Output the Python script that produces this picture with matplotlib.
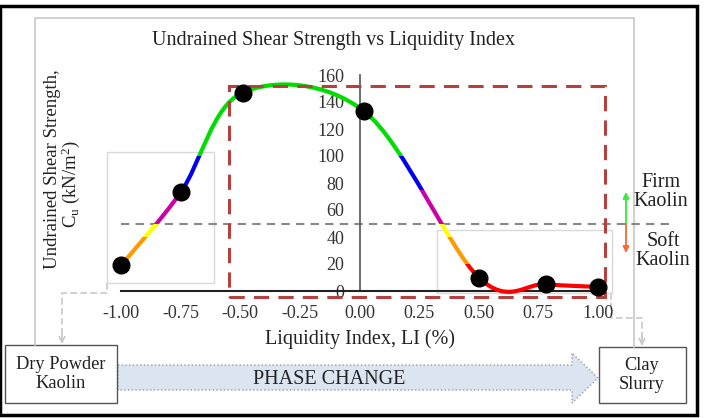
import numpy as np
import matplotlib.pyplot as plt
from matplotlib.path import Path
from matplotlib.patches import PathPatch, Rectangle, Polygon

plt.rcParams['font.family'] = ['Liberation Serif', 'DejaVu Serif']
plt.rcParams['axes.unicode_minus'] = False

# data
li = [-1.00, -0.75, -0.49, 0.02, 0.50, 0.78, 1.00]
cu = [19, 73, 147, 133, 10, 5, 3]
x_ticks = [-1.00, -0.75, -0.50, -0.25, 0.00, 0.25, 0.50, 0.75, 1.00]
y_ticks = [0, 20, 40, 60, 80, 100, 120, 140, 160]

# colour bands along C_u (lower, upper, colour)
band_edges = [-50, 20, 40, 50, 75, 100, 400]
band_colors = ['#ff0000', '#ff9900', '#ffff00', '#cc00aa', '#0000ee', '#00dd00']

TXT = '#222222'
W, H = 704, 418
fig = plt.figure(figsize=(W / 100, H / 100), dpi=100)

# overlay axes in pixel coordinates for the diagram parts
ov = fig.add_axes([0, 0, 1, 1], zorder=0)
ov.set_xlim(0, W)
ov.set_ylim(H, 0)
ov.axis('off')

# main chart axes
x0, x1, y0, y1 = 121, 598, 291, 75
ax = fig.add_axes([x0 / W, (H - y0) / H, (x1 - x0) / W, (y0 - y1) / H], zorder=1)
ax.set_facecolor('none')
ax.set_xlim(-1, 1)
ax.set_ylim(0, 160)
for s in ['top', 'right']:
    ax.spines[s].set_visible(False)
ax.spines['left'].set_position(('data', 0))
ax.spines['left'].set_color('#555555')
ax.spines['left'].set_linewidth(1.2)
ax.spines['bottom'].set_color('#222222')
ax.spines['bottom'].set_linewidth(1.5)
ax.set_xticks(x_ticks)
ax.set_xticklabels(['%.2f' % v for v in x_ticks])
ax.set_yticks(y_ticks)
ax.tick_params(length=0, labelsize=13, colors='#333333')
ax.tick_params(axis='x', pad=10)
ax.tick_params(axis='y', pad=11)

# Excel-style smoothed line as bezier segments
pts = np.column_stack([li, cu])
n = len(pts)
verts = [pts[0]]
codes = [Path.MOVETO]
for i in range(n - 1):
    p_prev = pts[i - 1] if i > 0 else pts[i]
    p_next2 = pts[i + 2] if i + 2 < n else pts[i + 1]
    c1 = pts[i] + (pts[i + 1] - p_prev) / 6
    c2 = pts[i + 1] - (p_next2 - pts[i]) / 6
    verts += [c1, c2, pts[i + 1]]
    codes += [Path.CURVE4] * 3
curve = Path(verts, codes)

for (lo, hi), col in zip(zip(band_edges[:-1], band_edges[1:]), band_colors):
    patch = PathPatch(curve, fill=False, edgecolor=col, lw=3, zorder=3,
                      capstyle='butt')
    ax.add_patch(patch)
    clip = Rectangle((-2, lo), 4, hi - lo, transform=ax.transData)
    patch.set_clip_path(clip)

ax.plot(li, cu, 'o', color='black', ms=12, zorder=5, clip_on=False)

# threshold line, highlight boxes
ax.plot([-1.0, 1.31], [50, 50], color='#888888', lw=1.5, ls=(0, (4, 3)),
        clip_on=False, zorder=2)
ax.add_patch(Rectangle((-0.549, -4.4), 1.579, 156.3, fill=False, ec='#b5413f',
                       lw=2.2, ls=(0, (5, 3)), clip_on=False, zorder=4))
ax.add_patch(Rectangle((-1.057, 5.9), 0.449, 97.1, fill=False, ec='#d9d9d9',
                       lw=1, clip_on=False, zorder=1))
ax.add_patch(Rectangle((0.327, -1.5), 0.73, 46.5, fill=False, ec='#d9d9d9',
                       lw=1, clip_on=False, zorder=1))

# outer frames
ov.add_patch(Rectangle((0, 6), 697, 409, fill=False, ec='black', lw=2.5))
ov.plot([35, 35, 634, 634], [345, 18, 18, 347], color='#c8c8c8', lw=1.2)

# titles
ov.text(334, 40, 'Undrained Shear Strength vs Liquidity Index', ha='center',
        va='center', fontsize=14.5, color=TXT)
ov.text(53, 169, 'Undrained Shear Strength,', rotation=90, ha='center',
        va='center', fontsize=13.5, color=TXT)
ov.text(71, 184, '$\\mathregular{C_u}$ (kN/m$\\mathregular{^2}$)', rotation=90,
        ha='center', va='center', fontsize=13.5, color=TXT)
ov.text(360, 339, 'Liquidity Index, LI (%)', ha='center', va='center',
        fontsize=14.5, color=TXT)

# firm / soft arrows
ov.annotate('', xy=(626, 192), xytext=(626, 224),
            arrowprops=dict(arrowstyle='-|>', color='#33ee33', lw=1.3,
                            mutation_scale=9, shrinkA=0, shrinkB=0))
ov.annotate('', xy=(626, 253), xytext=(626, 224),
            arrowprops=dict(arrowstyle='-|>', color='#ff6633', lw=1.3,
                            mutation_scale=9, shrinkA=0, shrinkB=0))
ov.text(661, 192, 'Firm\nKaolin', ha='center', va='center', fontsize=14.5,
        color=TXT, linespacing=1.05)
ov.text(663, 251, 'Soft\nKaolin', ha='center', va='center', fontsize=14.5,
        color=TXT, linespacing=1.05)

# dashed connectors
ov.plot([107, 107, 62, 62], [283, 293, 293, 340], color='#c8c8c8', lw=1.2,
        ls=(0, (4, 2)))
ov.annotate('', xy=(62, 344), xytext=(62, 334),
            arrowprops=dict(arrowstyle='->', color='#c8c8c8', lw=1.2,
                            shrinkA=0, shrinkB=0))
ov.plot([611, 611, 642, 642], [293, 318, 318, 342], color='#c8c8c8', lw=1.2,
        ls=(0, (4, 2)))
ov.annotate('', xy=(642, 346), xytext=(642, 336),
            arrowprops=dict(arrowstyle='->', color='#c8c8c8', lw=1.2,
                            shrinkA=0, shrinkB=0))

# phase change arrow
ov.add_patch(Polygon([(118, 365), (572, 365), (572, 353), (598, 378),
                      (572, 403), (572, 390), (118, 390)], closed=True,
                     fc='#dbe5f1', ec='#9a9a9a', lw=1, ls=':'))
ov.text(329, 379, 'PHASE CHANGE', ha='center', va='center', fontsize=14.5,
        color=TXT)

# end boxes
ov.add_patch(Rectangle((5, 345), 112, 58, fc='white', ec='#555555', lw=1))
ov.text(61, 374, 'Dry Powder\nKaolin', ha='center', va='center', fontsize=13.2,
        color=TXT, linespacing=1.1)
ov.add_patch(Rectangle((599, 347), 87, 56, fc='white', ec='#555555', lw=1))
ov.text(642, 375, 'Clay\nSlurry', ha='center', va='center', fontsize=13.2,
        color=TXT, linespacing=1.1)

fig.savefig('out.png', dpi=100)
